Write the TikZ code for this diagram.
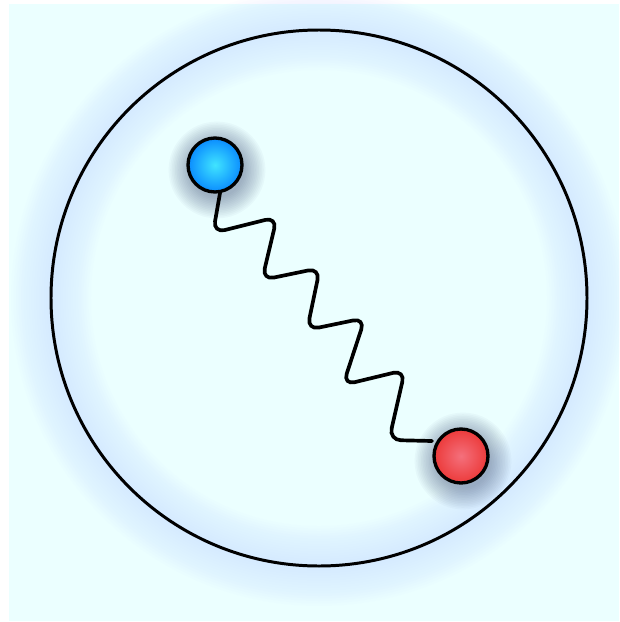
\documentclass[tikz,border=0pt]{standalone}
\usetikzlibrary{calc}
\definecolor{bg}{HTML}{EBFFFF}
\definecolor{halo}{HTML}{BCD2FF}
\definecolor{shd}{HTML}{2A3A6A}
\definecolor{bluein}{HTML}{40E4FF}
\definecolor{blueout}{HTML}{0A8CFF}
\definecolor{redin}{HTML}{F4707C}
\definecolor{redout}{HTML}{EC3A3A}
\tikzset{
  ball/.style={circle,draw=black,line width=1.9pt,minimum size=1.08cm,inner sep=0pt,shading=radial},
  bball/.style={ball,inner color=bluein,outer color=blueout},
  rball/.style={ball,inner color=redin,outer color=redout},
  rim/.style={draw=black,line width=1.7pt},
  spring/.style={draw=black,line width=2.1pt,rounded corners=0.24cm,line cap=round},
}

\begin{document}
\begin{tikzpicture}[x=0.02cm,y=-0.02cm]
\useasboundingbox (0,0) rectangle (619,622);
\fill[white] (0,0) rectangle (619,622);
\fill[bg] (9,4) rectangle (619,621);
\coordinate (ctr) at (319,298);
\coordinate (bc) at (215,165);
\coordinate (rc) at (461,456);
% halo round the rim
\foreach \k in {1,...,16}
  \draw[halo,opacity=0.026,line width={\k*0.1cm}] (ctr) circle (268);
\draw[rim] (ctr) circle (268);
% soft shadows under the balls
\foreach \k in {1,...,14} {
  \fill[shd,opacity=0.03] ($(bc)+(2,5)$) circle ({26+1.6*\k});
  \fill[shd,opacity=0.03] ($(rc)+(2,5)$) circle ({26+1.6*\k});
}
\node[bball] (blue) at (bc) {};
\node[rball] (red) at (rc) {};
\coordinate (tail) at (432,441);
\draw[spring] (blue.-80) -- (213,233) -- (277,217) -- (262,280) -- (320,268) -- (307,330)
  -- (365,318) -- (343,385) -- (405,370) -- (389,440) -- (tail);
\end{tikzpicture}
\end{document}
